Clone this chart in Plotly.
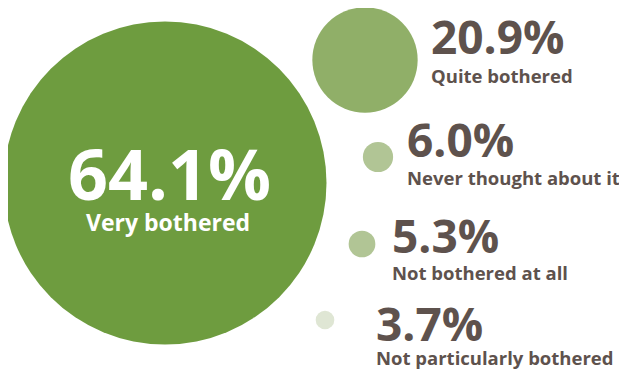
import plotly.graph_objects as go

# survey shares (%)
labels = ["Very bothered", "Quite bothered", "Never thought about it",
          "Not bothered at all", "Not particularly bothered"]
values = [64.1, 20.9, 6.0, 5.3, 3.7]
colors = ["#6e9c3f", "#90af68", "#b1c595", "#b1c595", "#dfe6d4"]

# bubble layout on a 627x370 canvas (pixel-like axis units)
cx = [165, 365, 378, 362, 325]
cy = [183, 60, 157, 244, 320]
# right-hand labels: left edge, centre of the number, centre of the caption
lab_x = [None, 429, 405, 390, 374]
num_y = [None, 36, 139, 235, 323]
cap_y = [None, 75, 177, 272, 357]

px_per_pct = 323 / 64.1  # bubble diameter scales with the share
TXT = "#5e524d"
FONT = "Open Sans"

fig = go.Figure(go.Scatter(
    x=cx, y=cy, mode="markers",
    marker=dict(size=[v * px_per_pct for v in values], sizemode="diameter",
                color=colors, line=dict(width=0), opacity=1),
    hoverinfo="skip", showlegend=False, cliponaxis=False,
))

# big bubble label, inside the circle
fig.add_annotation(x=169, y=173, text=f"<b>{values[0]}%</b>", showarrow=False,
                   yanchor="middle", font=dict(family=FONT, size=70, color="white"))
fig.add_annotation(x=168, y=222, text=f"<b>{labels[0]}</b>", showarrow=False,
                   yanchor="middle", font=dict(family=FONT, size=23, color="white"))

# the rest sit to the right of their bubbles
for i in range(1, len(values)):
    fig.add_annotation(x=lab_x[i], y=num_y[i], text=f"<b>{values[i]:.1f}%</b>", showarrow=False,
                       xanchor="left", yanchor="middle",
                       font=dict(family=FONT, size=46, color=TXT))
    fig.add_annotation(x=lab_x[i], y=cap_y[i], text=f"<b>{labels[i]}</b>", showarrow=False,
                       xanchor="left", yanchor="middle",
                       font=dict(family=FONT, size=18.5, color=TXT))

# page body has an 8px margin, so shift the axes to keep units = screen pixels
fig.update_layout(
    width=627, height=370,
    margin=dict(l=0, r=0, t=0, b=0),
    paper_bgcolor="white", plot_bgcolor="white",
    xaxis=dict(range=[8, 635], visible=False, fixedrange=True),
    yaxis=dict(range=[378, 8], visible=False, fixedrange=True),
)

fig.write_html("out.html")
